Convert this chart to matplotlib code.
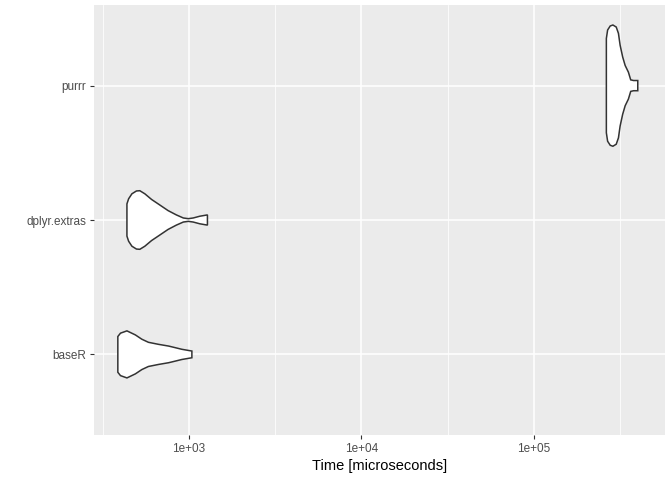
import numpy as np
import matplotlib.pyplot as plt

# categories bottom -> top
exprs = ['baseR', 'dplyr.extras', 'purrr']

# violin outlines: time (microseconds) and half width (category units)
baseR_time = [387, 401, 437, 489, 533, 582, 665, 762, 833, 909, 1040]
baseR_half = [0.133, 0.158, 0.175, 0.145, 0.113, 0.090, 0.075, 0.062, 0.050, 0.038, 0.025]

dplyr_time = [437, 447, 467, 496, 519, 555, 607, 663, 757, 845, 928, 991, 1058, 1155, 1280]
dplyr_half = [0.120, 0.158, 0.195, 0.216, 0.218, 0.195, 0.153, 0.120, 0.070, 0.038,
              0.015, 0.010, 0.015, 0.028, 0.038]

purrr_time = [263000, 267500, 277000, 287000, 300000, 309000, 316000, 327000, 338000,
              353000, 364000, 378000, 400000]
purrr_half = [0.351, 0.414, 0.444, 0.451, 0.436, 0.389, 0.301, 0.213, 0.150,
              0.100, 0.043, 0.038, 0.038]

profiles = [(baseR_time, baseR_half), (dplyr_time, dplyr_half), (purrr_time, purrr_half)]

fig = plt.figure(figsize=(6.72, 4.8), dpi=100)
ax = fig.add_axes([0.140, 0.0937, 0.8496, 0.8959])
ax.set_facecolor('#EBEBEB')

for i, (t, h) in enumerate(profiles):
    pos = i + 1
    t = np.array(t, dtype=float)
    h = np.array(h)
    xs = np.concatenate([t, t[::-1]])
    ys = np.concatenate([pos + h, (pos - h)[::-1]])
    ax.fill(xs, ys, facecolor='white', edgecolor='#333333', linewidth=1.1, zorder=3)

ax.set_xscale('log')
ax.set_xlim(10 ** 2.45, 10 ** 5.76)
ax.set_ylim(0.4, 3.6)

ax.set_xticks([1e3, 1e4, 1e5])
ax.set_xticklabels(['1e+03', '1e+04', '1e+05'])
ax.set_xticks([10 ** 2.5, 10 ** 3.5, 10 ** 4.5, 10 ** 5.5], minor=True)
ax.set_yticks([1, 2, 3])
ax.set_yticklabels(exprs)

ax.grid(True, which='major', color='white', linewidth=1.1, zorder=0)
ax.grid(True, which='minor', axis='x', color='white', linewidth=0.55, zorder=0)
ax.set_axisbelow(True)

for s in ax.spines.values():
    s.set_visible(False)

ax.tick_params(axis='both', which='major', length=3, width=0.8, color='#333333',
               labelsize=8.5, labelcolor='#4D4D4D', pad=2.5)
ax.tick_params(axis='both', which='minor', length=0)
for lab in ax.get_xticklabels() + ax.get_yticklabels():
    lab.set_fontfamily('Liberation Sans')

ax.set_xlabel('Time [microseconds]', fontsize=10.5, fontfamily='Liberation Sans', labelpad=3)

fig.savefig('out.png', dpi=100)
